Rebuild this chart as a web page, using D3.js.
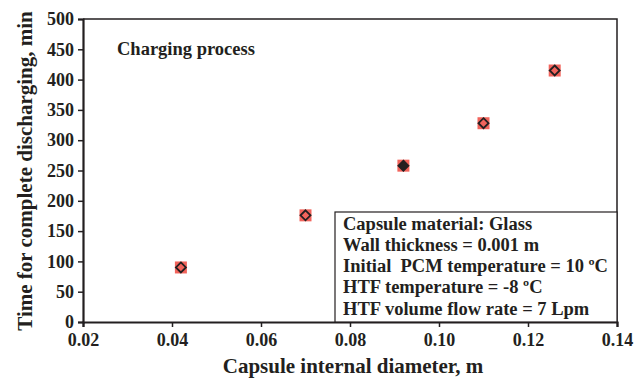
<!DOCTYPE html>
<html>
<head>
<meta charset="utf-8">
<script src="https://cdn.jsdelivr.net/npm/d3@7"></script>
<style>
  body { margin: 0; background: #fff; }
  text { font-family: "Liberation Serif", "Times New Roman", serif; font-weight: 700; fill: #231f20; }
</style>
</head>
<body>
<svg id="chart" width="643" height="380"></svg>
<script>
// values
const diameters = [0.042, 0.070, 0.092, 0.110, 0.126];
const timeSquares = [90, 176, 258, 328, 415];
const timeDiamonds = [90, 176, 258, 328, 415];
const diamondFilled = [false, false, true, false, false];
const xTicks = [0.02, 0.04, 0.06, 0.08, 0.10, 0.12, 0.14];
const yTicks = [0, 50, 100, 150, 200, 250, 300, 350, 400, 450, 500];
const infoLines = [
  "Capsule material: Glass",
  "Wall thickness = 0.001 m",
  "Initial \u00a0PCM temperature = 10 \u00baC",
  "HTF temperature = -8 \u00baC",
  "HTF volume flow rate = 7 Lpm"
];

const margin = { left: 83, right: 26, top: 19, bottom: 58 };
const width = 643, height = 380;
const svg = d3.select("#chart");
const ink = "#231f20";

const x = d3.scaleLinear().domain([0.02, 0.14]).range([margin.left, width - margin.right]);
const y = d3.scaleLinear().domain([0, 500]).range([height - margin.bottom, margin.top]);

// frame (top + right)
svg.append("path")
  .attr("d", `M${x(0.02)},${y(500)}H${x(0.14)}V${y(0)}`)
  .attr("fill", "none").attr("stroke", ink).attr("stroke-width", 1.5);

const xAxis = svg.append("g")
  .attr("transform", `translate(0,${y(0)})`)
  .call(d3.axisBottom(x).tickValues(xTicks).tickFormat(d3.format(".2f")).tickSizeOuter(0).tickSize(5).tickPadding(6));
const yAxis = svg.append("g")
  .attr("transform", `translate(${x(0.02)},0)`)
  .call(d3.axisLeft(y).tickValues(yTicks).tickSizeOuter(0).tickSize(5).tickPadding(4));

[xAxis, yAxis].forEach(a => {
  a.attr("font-family", null).attr("font-size", null);
  a.select(".domain").attr("stroke", ink).attr("stroke-width", 2.2);
  a.selectAll(".tick line").attr("stroke", ink).attr("stroke-width", 1.5);
  a.selectAll(".tick text").style("font-size", "18px").attr("fill", ink);
});

// axis titles
svg.append("text")
  .attr("x", 353).attr("y", 373)
  .attr("text-anchor", "middle").style("font-size", "21px")
  .text("Capsule internal diameter, m");
svg.append("text")
  .attr("transform", `translate(32,171) rotate(-90)`)
  .attr("text-anchor", "middle").style("font-size", "21px")
  .text("Time for complete discharging, min");

svg.append("text")
  .attr("x", 117).attr("y", 55).style("font-size", "18.5px")
  .text("Charging process");

// info box
const boxX = 335, boxY = 212;
svg.append("rect")
  .attr("x", boxX).attr("y", boxY)
  .attr("width", x(0.14) - boxX).attr("height", y(0) - boxY)
  .attr("fill", "#fff").attr("stroke", ink).attr("stroke-width", 1.2);
svg.append("g").selectAll("text")
  .data(infoLines).enter().append("text")
  .attr("x", boxX + 8)
  .attr("y", (d, i) => boxY + 17.5 + i * 21.3)
  .style("font-size", "18.5px")
  .text(d => d);

// markers
const pts = diameters.map((d, i) => ({ d: d, sq: timeSquares[i], di: timeDiamonds[i], filled: diamondFilled[i] }));
svg.append("g").selectAll("rect")
  .data(pts).enter().append("rect")
  .attr("x", p => x(p.d) - 6).attr("y", p => y(p.sq) - 6)
  .attr("width", 12).attr("height", 12)
  .attr("fill", "#f2645c");
svg.append("g").selectAll("path")
  .data(pts).enter().append("path")
  .attr("transform", p => `translate(${x(p.d)},${y(p.di)})`)
  .attr("d", "M0,-5L5,0L0,5L-5,0Z")
  .attr("fill", p => p.filled ? ink : "none")
  .attr("stroke", ink).attr("stroke-width", 1.8);
</script>
</body>
</html>
